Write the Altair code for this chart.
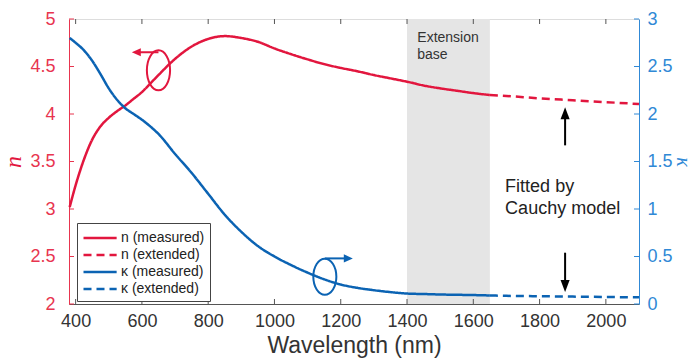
import altair as alt
import pandas as pd

# ---------------- data ----------------
wl_meas = [382, 400, 425, 450, 475, 500, 525, 550, 575, 600, 625, 650, 700, 750, 800, 850,
           900, 950, 1000, 1050, 1100, 1150, 1200, 1250, 1300, 1350, 1400, 1450, 1500,
           1550, 1600, 1650]
n_meas = [3.02, 3.25, 3.52, 3.73, 3.87, 3.96, 4.03, 4.09, 4.16, 4.23, 4.32, 4.41, 4.58, 4.71,
          4.79, 4.82, 4.80, 4.76, 4.69, 4.63, 4.575, 4.525, 4.485, 4.45, 4.41, 4.375, 4.34,
          4.30, 4.27, 4.245, 4.22, 4.20]
k_meas = [2.80, 2.75, 2.67, 2.56, 2.42, 2.27, 2.15, 2.06, 2.00, 1.94, 1.87, 1.79, 1.58, 1.38,
          1.16, 0.94, 0.76, 0.61, 0.50, 0.41, 0.33, 0.26, 0.205, 0.17, 0.145, 0.125, 0.11,
          0.105, 0.10, 0.097, 0.094, 0.09]
wl_ext = [1650, 1700, 1800, 1900, 2000, 2100]
n_ext = [4.20, 4.19, 4.165, 4.145, 4.125, 4.105]
k_ext = [0.09, 0.086, 0.082, 0.078, 0.074, 0.07]

series = ["n (measured)", "n (extended)", "κ (measured)", "κ (extended)"]
x_ticks = [400, 600, 800, 1000, 1200, 1400, 1600, 1800, 2000]
n_ticks = [2, 2.5, 3, 3.5, 4, 4.5, 5]
k_ticks = [0, 0.5, 1, 1.5, 2, 2.5, 3]
band_start = [1400]
band_end = [1650]
band_label = ["Extension\nbase"]
band_label_wl = [1431]
band_label_n = [4.80]
fit_label = ["Fitted by", "Cauchy model"]
fit_label_wl = [1696, 1696]
fit_label_n = [3.232, 3.0]
red_ell_wl, red_ell_n = [650], [4.46]
red_arrow_from, red_arrow_to, red_arrow_n = [650], [594], [4.65]
blue_ell_wl, blue_ell_k = [1152], [0.287]
blue_arrow_from, blue_arrow_to, blue_arrow_k = [1152], [1212], [0.48]
up_arrow_wl, up_arrow_from, up_arrow_to = [1877], [3.67], [4.0]
down_arrow_wl, down_arrow_from, down_arrow_to = [1877], [0.54], [0.2]
up_tip_n = [4.07]
down_tip_k = [0.126]

RED = "#E2163E"
RED_AX = "#E8354F"
BLUE = "#0B63B3"
BLUE_AX = "#3089D6"
GRAY = "#555555"
FONT = "Liberation Sans"

# ---------------- tables ----------------
n_df = pd.DataFrame({
    "wl": wl_meas + wl_ext,
    "val": n_meas + n_ext,
    "series": [series[0]] * len(wl_meas) + [series[1]] * len(wl_ext),
})
k_df = pd.DataFrame({
    "wl": wl_meas + wl_ext,
    "val": k_meas + k_ext,
    "series": [series[2]] * len(wl_meas) + [series[3]] * len(wl_ext),
})

xscale = alt.Scale(domain=[380, 2100], nice=False, zero=False)
xaxis = alt.Axis(values=x_ticks, format="d", ticks=False, labelPadding=8, labelFontSize=18,
                 labelFont=FONT, labelColor="#333", domainColor=GRAY, grid=False,
                 titleFont=FONT, titleFontSize=23, titleColor="#333", titleFontWeight="normal",
                 titlePadding=4)
nscale = alt.Scale(domain=[2, 5], nice=False, zero=False)
naxis = alt.Axis(values=n_ticks, format="~g", ticks=False, labelPadding=14, labelFontSize=18,
                 labelFont=FONT, labelColor=RED_AX, domainColor=RED_AX, grid=False,
                 title="n", titleFont="Liberation Serif", titleFontStyle="italic",
                 titleFontSize=24, titleColor=RED, titleFontWeight="normal", titlePadding=4)
kscale = alt.Scale(domain=[0, 3], nice=False, zero=False)
kaxis = alt.Axis(values=k_ticks, format="~g", ticks=False, labelPadding=8, labelFontSize=18,
                 labelFont=FONT, labelColor=BLUE_AX, domainColor=BLUE_AX, grid=False,
                 orient="right",
                 title="κ", titleFont="Liberation Serif", titleFontStyle="italic",
                 titleFontSize=20, titleColor=BLUE_AX, titleFontWeight="normal", titlePadding=0)


def X(f):
    return alt.X(f, type="quantitative", scale=xscale, axis=xaxis, title="Wavelength (nm)")


def Yn(f):
    return alt.Y(f, type="quantitative", scale=nscale, axis=naxis, title="n")


def Yk(f):
    return alt.Y(f, type="quantitative", scale=kscale, axis=kaxis, title="κ")


legend = alt.Legend(title=None, orient="none", legendX=8, legendY=204, fillColor="white",
                    strokeColor="#444", padding=5, symbolType="M-1,0L2.9,0",
                    symbolStrokeWidth=2.5, symbolSize=289, labelFont=FONT, labelFontSize=14,
                    labelColor="#222", rowPadding=0, labelOffset=19)
color = alt.Color("series:N", scale=alt.Scale(domain=series, range=[RED, RED, BLUE, BLUE]),
                  legend=legend)
dash = alt.StrokeDash("series:N", scale=alt.Scale(domain=series,
                                                  range=[[1, 0], [8, 5], [1, 0], [8, 5]]),
                      legend=legend)

# ---------------- left (n) layer ----------------
band = alt.Chart(pd.DataFrame({"x0": band_start, "x1": band_end})).mark_rect(
    color="#E5E5E5").encode(x=X("x0"), x2="x1", y=alt.value(0), y2=alt.value(285))

band_text = alt.Chart(pd.DataFrame({"x": band_label_wl, "y": band_label_n, "t": band_label})).mark_text(
    align="left", baseline="middle", font=FONT, fontSize=14, color="#333", lineBreak="\n",
    lineHeight=17).encode(x=X("x"), y=Yn("y"), text="t:N")

xt = pd.DataFrame({"t": x_ticks})
top_ticks = alt.Chart(xt).mark_rule(color=GRAY).encode(x=X("t"), y=alt.value(0), y2=alt.value(5))
bot_ticks = alt.Chart(xt).mark_rule(color=GRAY).encode(x=X("t"), y=alt.value(285), y2=alt.value(280))
nt = pd.DataFrame({"t": n_ticks})
left_ticks = alt.Chart(nt).mark_rule(color=RED_AX).encode(y=Yn("t"), x=alt.value(0), x2=alt.value(5))

n_lines = alt.Chart(n_df).mark_line(strokeWidth=2.5, interpolate="monotone").encode(
    x=X("wl"), y=Yn("val"), color=color, strokeDash=dash)

ell_path = "M-0.58,0A0.58,1,0,1,0,0.58,0A0.58,1,0,1,0,-0.58,0Z"
red_ell = alt.Chart(pd.DataFrame({"x": red_ell_wl, "y": red_ell_n})).mark_point(
    shape=ell_path, size=1600, filled=False, stroke=RED, strokeWidth=2, opacity=1).encode(
    x=X("x"), y=Yn("y"))
red_arrow = alt.Chart(pd.DataFrame({"x0": red_arrow_from, "x1": red_arrow_to, "y": red_arrow_n})).mark_rule(
    color=RED, strokeWidth=2).encode(x=X("x0"), x2="x1", y=Yn("y"))
red_head = alt.Chart(pd.DataFrame({"x": red_arrow_to, "y": red_arrow_n})).mark_point(
    shape="M-0.9,0L0.1,-0.45L0.1,0.45Z", size=324, filled=True, color=RED, opacity=1).encode(
    x=X("x"), y=Yn("y"))

up_arrow = alt.Chart(pd.DataFrame({"x": up_arrow_wl, "y0": up_arrow_from, "y1": up_arrow_to})).mark_rule(
    color="black", strokeWidth=2).encode(x=X("x"), y=Yn("y0"), y2="y1")
up_head = alt.Chart(pd.DataFrame({"x": up_arrow_wl, "y": up_tip_n})).mark_point(
    shape="M0,0L-0.38,1L0.38,1Z", size=576, filled=True, color="black", opacity=1).encode(
    x=X("x"), y=Yn("y"))

fit_text = alt.Chart(pd.DataFrame({"x": fit_label_wl, "y": fit_label_n, "t": fit_label})).mark_text(
    align="left", baseline="middle", font=FONT, fontSize=18, color="#222").encode(
    x=X("x"), y=Yn("y"), text="t:N")

left = alt.layer(band, band_text, top_ticks, bot_ticks, left_ticks, n_lines, red_ell, red_arrow,
                 red_head, up_arrow, up_head, fit_text)

# ---------------- right (kappa) layer ----------------
kt = pd.DataFrame({"t": k_ticks})
right_ticks = alt.Chart(kt).mark_rule(color=BLUE_AX).encode(y=Yk("t"), x=alt.value(565), x2=alt.value(570))
k_lines = alt.Chart(k_df).mark_line(strokeWidth=2.5, interpolate="monotone").encode(
    x=X("wl"), y=Yk("val"), color=color, strokeDash=dash)
ell_path_b = "M-0.64,0A0.64,1,0,1,0,0.64,0A0.64,1,0,1,0,-0.64,0Z"
blue_ell = alt.Chart(pd.DataFrame({"x": blue_ell_wl, "y": blue_ell_k})).mark_point(
    shape=ell_path_b, size=1296, filled=False, stroke=BLUE, strokeWidth=2, opacity=1).encode(
    x=X("x"), y=Yk("y"))
blue_arrow = alt.Chart(pd.DataFrame({"x0": blue_arrow_from, "x1": blue_arrow_to, "y": blue_arrow_k})).mark_rule(
    color=BLUE, strokeWidth=2).encode(x=X("x0"), x2="x1", y=Yk("y"))
blue_head = alt.Chart(pd.DataFrame({"x": blue_arrow_to, "y": blue_arrow_k})).mark_point(
    shape="M0.9,0L-0.1,-0.45L-0.1,0.45Z", size=324, filled=True, color=BLUE, opacity=1).encode(
    x=X("x"), y=Yk("y"))
down_arrow = alt.Chart(pd.DataFrame({"x": down_arrow_wl, "y0": down_arrow_from, "y1": down_arrow_to})).mark_rule(
    color="black", strokeWidth=2).encode(x=X("x"), y=Yk("y0"), y2="y1")
down_head = alt.Chart(pd.DataFrame({"x": down_arrow_wl, "y": down_tip_k})).mark_point(
    shape="M0,0L-0.38,-1L0.38,-1Z", size=576, filled=True, color="black", opacity=1).encode(
    x=X("x"), y=Yk("y"))

right = alt.layer(right_ticks, k_lines, blue_ell, blue_arrow, blue_head, down_arrow, down_head)

chart = alt.layer(left, right).resolve_scale(y="independent").properties(
    width=570, height=285,
    padding={"left": 69, "top": 19, "right": 57, "bottom": 56},
    autosize=alt.AutoSizeParams(type="none"),
).configure_view(stroke=GRAY, strokeWidth=1).configure(background="white")

chart.save("out.html", embed_options={"renderer": "svg", "actions": False})
